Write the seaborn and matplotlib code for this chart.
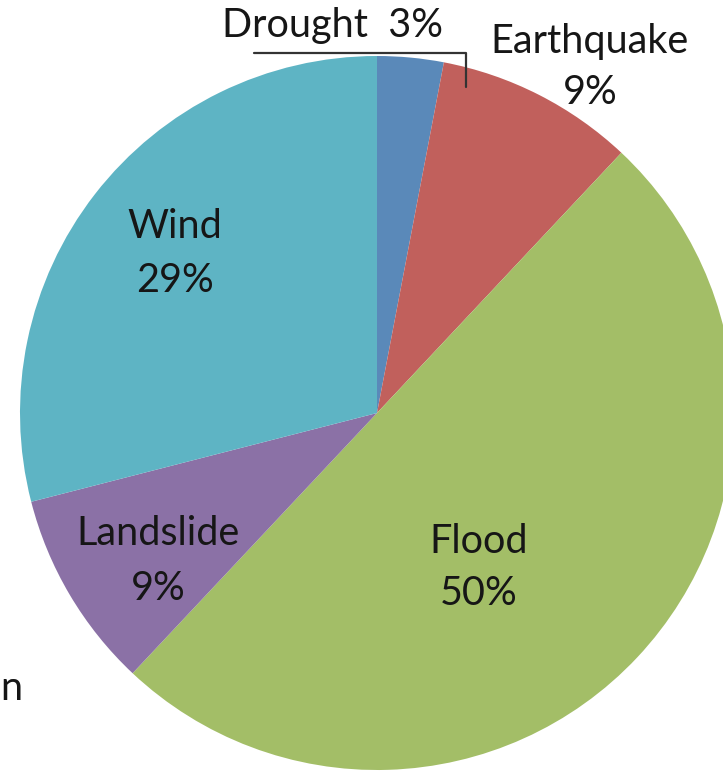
import matplotlib
matplotlib.use("Agg")
import matplotlib.pyplot as plt
import seaborn as sns

categories = ["Drought", "Earthquake", "Flood", "Landslide", "Wind"]
values = [3, 9, 50, 9, 29]
colors = ["#5A89B9", "#C1605C", "#A3BE67", "#8B71A6", "#5EB4C4"]

sns.set_theme(style="white")
plt.rcParams['font.family'] = ['Lato', 'DejaVu Sans']

W, H = 723, 773
cx, cy, R = 377, 413, 357
fig = plt.figure(figsize=(W / 100, H / 100), dpi=100)
ax = fig.add_axes([0, 0, 1, 1])

ax.pie(values, colors=colors, startangle=90, counterclock=False, radius=1.0,
       center=(0, 0), wedgeprops=dict(linewidth=0))
ax.set_aspect('auto')
ax.set_xlim(-cx / R, (W - cx) / R)
ax.set_ylim(-(H - cy) / R, cy / R)
ax.axis('off')

def P(x, y):
    return ((x - cx) / R, (cy - y) / R)

fs = 28.5
tc = "#161616"
# (x center, baseline of name, baseline of percent) in pixels
labels_pos = {
    "Earthquake": (590, 53, 104),
    "Flood": (479, 553, 605),
    "Landslide": (158, 545, 600),
    "Wind": (175, 238, 292),
}
for cat, val in zip(categories, values):
    if cat in labels_pos:
        x0, b1, b2 = labels_pos[cat]
        x, y = P(x0, b1)
        ax.text(x, y, cat, ha='center', va='baseline', fontsize=fs, color=tc)
        x, y = P(x0, b2)
        ax.text(x, y, f"{val}%", ha='center', va='baseline', fontsize=fs, color=tc)

# Drought label with leader line
x, y = P(333, 37)
ax.text(x, y, f"{categories[0]}  {values[0]}%", ha='center', va='baseline', fontsize=fs, color=tc)
pts = [P(254, 53), P(466, 53), P(466, 87)]
ax.plot([p[0] for p in pts], [p[1] for p in pts], color="#333333", linewidth=1.6)

# text fragment at left edge
x, y = P(0, 700)
ax.text(x, y, "n", ha='left', va='baseline', fontsize=fs, color=tc)

fig.savefig("out.png", dpi=100)
